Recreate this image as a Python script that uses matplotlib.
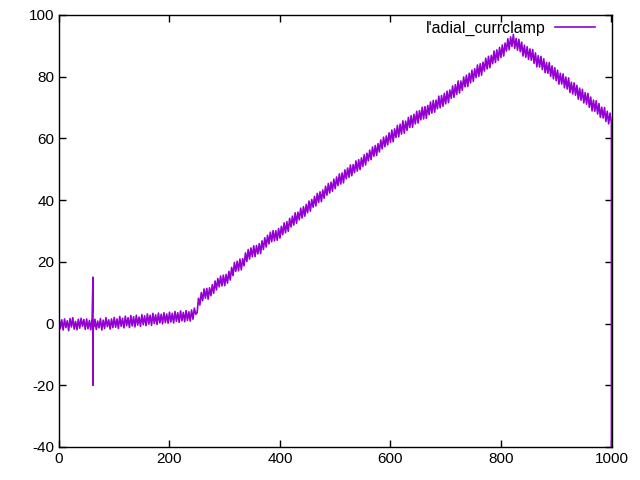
import numpy as np
import matplotlib
matplotlib.use("Agg")
import matplotlib.pyplot as plt

plt.rcParams['font.family'] = ['Liberation Sans', 'DejaVu Sans']
plt.rcParams['axes.unicode_minus'] = False

# trace sampled every 2.5 time units, 0..1000 (one row = 50 units)
t_trace = np.arange(0, 1000.1, 2.5)
v_trace = [
    1.8, -1.6, 1.2, -2.1, 1.5, -1.3, 0.9, -2.3, 1.6, -1.1, 1.9, -1.8, 0.7, -2.0, 1.4, -1.5, 1.7, -0.9, 1.3, -1.9,
    1.5, -1.7, 1.0, -2.0, 1.8, -1.2, 1.4, -1.9, 0.8, -1.4, 1.6, -2.1, 1.1, -1.6, 1.9, -1.0, 1.2, -1.8, 1.5, -1.3,
    2.0, -1.2, 1.5, -1.6, 2.3, -0.9, 1.7, -1.4, 2.4, -0.7, 1.9, -1.3, 2.6, -0.8, 2.2, -1.1, 2.7, -0.5, 2.1, -0.9,
    2.9, -0.4, 2.5, -0.7, 3.1, -0.2, 2.7, -0.6, 3.3, 0.0, 2.8, -0.3, 3.4, 0.2, 3.0, -0.1, 3.5, 0.3, 3.1, 0.1,
    3.7, 0.5, 3.3, 0.2, 3.9, 0.7, 3.5, 0.4, 4.1, 0.9, 3.6, 0.6, 4.2, 1.0, 3.8, 0.8, 4.4, 1.4, 5.0, 3.0,
    3.5, 8.2, 6.0, 10.0, 7.4, 11.2, 8.2, 11.4, 7.9, 11.6, 9.0, 12.6, 9.8, 13.8, 10.9, 14.6, 11.9, 15.4, 12.2, 15.7,
    12.3, 15.9, 13.1, 16.9, 14.1, 18.2, 15.5, 19.8, 16.9, 20.2, 17.1, 20.9, 17.4, 21.0, 18.7, 22.9, 20.1, 24.0, 20.9, 24.5,
    21.6, 25.2, 21.7, 25.3, 22.6, 25.9, 22.7, 26.8, 24.0, 27.8, 24.8, 28.6, 25.8, 29.6, 26.5, 30.1, 26.8, 30.1, 27.0, 30.8,
    27.7, 31.5, 28.8, 32.6, 29.4, 33.0, 29.9, 34.1, 31.3, 34.8, 31.9, 35.9, 32.5, 36.1, 33.6, 37.4, 34.2, 37.9, 34.8, 38.6,
    35.9, 39.7, 36.4, 40.2, 37.7, 41.2, 38.1, 42.2, 39.2, 42.7, 39.5, 43.3, 40.6, 44.5, 41.6, 45.4, 42.3, 45.8, 42.9, 46.8,
    43.7, 47.5, 44.7, 48.5, 45.2, 48.8, 45.6, 49.8, 46.9, 50.4, 47.4, 51.4, 47.9, 51.5, 48.9, 52.7, 49.4, 53.1, 49.9, 53.7,
    50.9, 54.7, 51.4, 55.2, 52.7, 56.2, 53.1, 57.2, 54.2, 57.7, 54.5, 58.3, 55.6, 59.5, 56.6, 60.4, 57.3, 60.8, 57.9, 61.8,
    58.7, 62.7, 58.9, 63.1, 60.3, 64.2, 60.5, 64.6, 61.4, 65.7, 61.7, 65.6, 62.6, 66.8, 63.5, 67.4, 63.6, 67.8, 64.7, 68.8,
    65.0, 69.0, 66.0, 70.1, 66.3, 70.3, 66.5, 70.7, 67.7, 71.8, 68.2, 72.3, 68.5, 72.4, 69.6, 73.7, 69.9, 73.9, 70.4, 74.6,
    71.2, 75.3, 71.6, 75.7, 73.0, 77.0, 73.3, 77.4, 74.3, 78.6, 74.7, 78.6, 75.6, 79.9, 76.7, 80.5, 76.8, 81.1, 78.0, 82.1,
    78.5, 82.6, 79.7, 83.8, 80.1, 84.2, 80.5, 84.7, 81.8, 86.0, 82.5, 86.6, 82.9, 86.9, 84.2, 88.3, 84.6, 88.7, 85.3, 89.5,
    86.2, 90.3, 86.7, 90.9, 88.3, 92.3, 88.7, 92.9, 89.8, 93.7, 89.2, 92.4, 88.6, 92.1, 88.1, 91.2, 86.7, 90.2, 86.3, 89.7,
    85.6, 89.0, 85.3, 88.8, 84.3, 87.7, 83.2, 86.8, 83.1, 86.6, 82.3, 85.8, 81.3, 84.6, 81.1, 84.6, 80.1, 83.5, 79.3, 82.9,
    78.7, 82.1, 77.6, 81.1, 77.6, 80.9, 76.4, 79.9, 76.0, 79.6, 74.9, 78.2, 74.4, 78.0, 74.0, 77.2, 72.7, 76.3, 72.4, 75.9,
    71.5, 74.8, 71.1, 74.6, 70.1, 73.4, 68.9, 72.4, 68.8, 72.2, 67.9, 71.3, 66.8, 70.1, 66.6, 70.0, 65.5, 68.8, 64.7, 68.2,
    65.0,
]

# stimulus artefact and final drop
t_extra = [61.5, 61.5, 62, 1000]
v_extra = [15.0, -20.0, 0.5, -60.0]

t = np.concatenate([t_trace, t_extra])
v = np.concatenate([v_trace, v_extra])
order = np.argsort(t, kind='stable')
t, v = t[order], v[order]

fig = plt.figure(figsize=(6.4, 4.8), dpi=100)
ax = fig.add_axes([0.0922, 0.0688, 0.8640, 0.9000])
ax.plot(t, v, color='#9400d3', lw=1.2, label="l'adial_currclamp")

ax.set_xlim(0, 1001)
ax.set_ylim(-40, 100)
ax.set_xticks(range(0, 1001, 200))
ax.set_yticks(range(-40, 101, 20))
ax.tick_params(direction='in', length=5, top=True, right=True, labelsize=11, width=1)
for s in ax.spines.values():
    s.set_linewidth(1)

ax.legend(loc='upper right', bbox_to_anchor=(0.981, 1.002), borderaxespad=0,
          frameon=False, markerfirst=False, fontsize=11.5,
          handlelength=2.5, handletextpad=0.6)

fig.savefig('out.png', dpi=100)
